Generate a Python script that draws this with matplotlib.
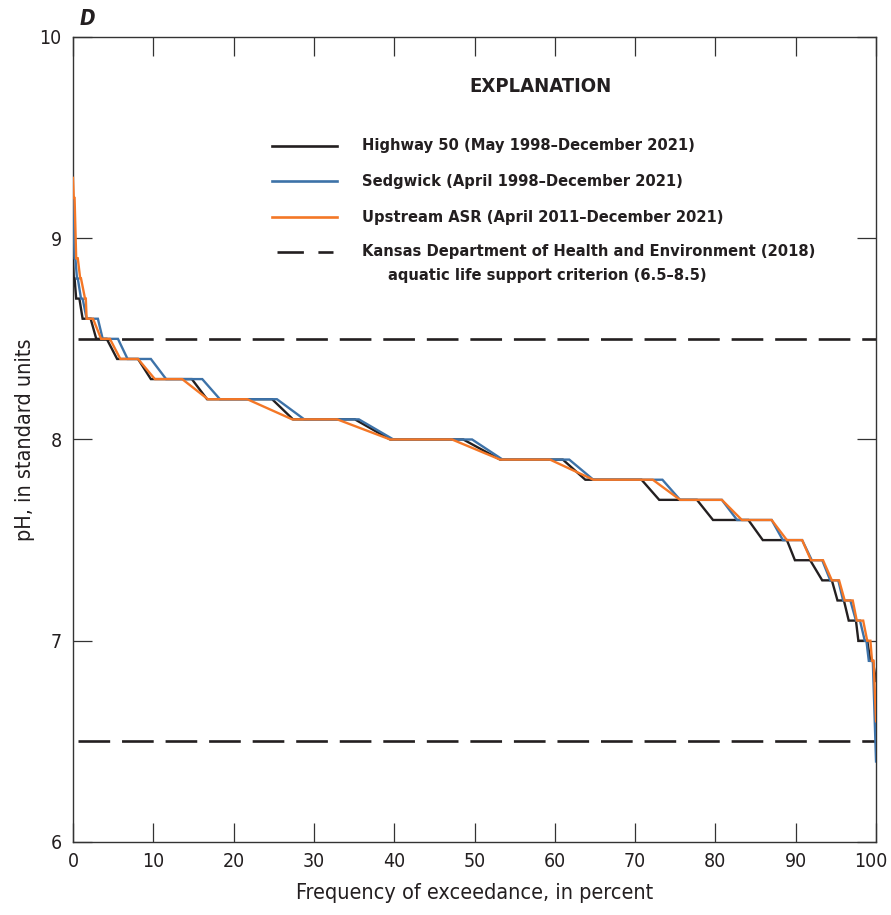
import matplotlib
matplotlib.use("Agg")
import matplotlib.pyplot as plt
from matplotlib.transforms import ScaledTranslation
import numpy as np

# --- data: plateaus of the exceedance curves (pH level, start %, end %) ---
ph_levels_hwy = [8.8, 8.7, 8.6, 8.5, 8.4, 8.3, 8.2, 8.1, 8.0, 7.9, 7.8, 7.7, 7.6, 7.5, 7.4, 7.3, 7.2, 7.1, 7.0, 6.9]
start_hwy = [0.1, 0.4, 1.2, 2.9, 5.5, 9.7, 16.7, 27.4, 39.5, 53.2, 63.8, 73.0, 79.7, 85.9, 89.9, 93.3, 95.2, 96.6, 97.8, 99.3]
end_hwy = [0.2, 0.8, 2.2, 4.2, 8.1, 14.8, 24.8, 35.1, 48.6, 61.0, 70.8, 77.7, 84.1, 88.9, 91.8, 94.5, 96.0, 97.5, 98.9, 99.6]
first_hwy, last_hwy = 8.9, 6.8

ph_levels_sed = [8.9, 8.8, 8.7, 8.6, 8.5, 8.4, 8.3, 8.2, 8.1, 8.0, 7.9, 7.8, 7.7, 7.6, 7.5, 7.4, 7.3, 7.2, 7.1, 7.0, 6.9]
start_sed = [0.2, 0.5, 1.0, 1.7, 3.7, 6.8, 11.6, 18.3, 28.8, 39.9, 53.5, 64.8, 75.6, 82.7, 88.4, 92.0, 94.3, 95.9, 97.5, 98.6, 99.1]
end_sed = [0.3, 0.6, 1.2, 3.1, 5.6, 9.7, 16.1, 25.4, 35.6, 49.7, 61.8, 73.4, 80.8, 87.0, 90.8, 93.3, 95.3, 96.8, 98.0, 98.8, 99.6]
first_sed, last_sed = 9.2, 6.4

ph_levels_asr = [9.2, 8.9, 8.8, 8.7, 8.6, 8.5, 8.4, 8.3, 8.2, 8.1, 8.0, 7.9, 7.8, 7.7, 7.6, 7.5, 7.4, 7.3, 7.2, 7.1, 7.0, 6.9]
start_asr = [0.1, 0.4, 0.9, 1.5, 1.7, 3.5, 5.9, 10.2, 16.8, 27.3, 39.5, 53.2, 64.8, 75.6, 83.3, 88.9, 91.9, 94.5, 96.1, 97.6, 98.9, 99.5]
end_asr = [0.2, 0.6, 1.0, 1.6, 2.5, 4.6, 8.1, 13.6, 21.7, 32.9, 47.2, 59.4, 72.2, 80.8, 87.0, 90.8, 93.4, 95.4, 97.1, 98.4, 99.3, 99.7]
first_asr, last_asr = 9.3, 6.6

criteria = [8.5, 6.5]

labels = ["Highway 50 (May 1998\u2013December 2021)",
          "Sedgwick (April 1998\u2013December 2021)",
          "Upstream ASR (April 2011\u2013December 2021)"]
colors = ["#231f20", "#3d72a8", "#f47726"]

# condensed face is the closest thing to the original narrow font
plt.rcParams["font.family"] = ["DejaVu Sans"]
plt.rcParams["font.stretch"] = "condensed"
INK = "#231f20"


def build_curve(levels, starts, ends, first, last):
    xs = [0.0]
    ys = [first]
    for ph, s, e in zip(levels, starts, ends):
        xs += [s, e]
        ys += [ph, ph]
    xs.append(100.0)
    ys.append(last)
    return np.array(xs), np.array(ys)


fig = plt.figure(figsize=(8.91, 9.15), dpi=100)
ax = fig.add_axes([0.0819, 0.0798, 0.9013, 0.8798])

curves = [
    build_curve(ph_levels_hwy, start_hwy, end_hwy, first_hwy, last_hwy),
    build_curve(ph_levels_sed, start_sed, end_sed, first_sed, last_sed),
    build_curve(ph_levels_asr, start_asr, end_asr, first_asr, last_asr),
]
for (xs, ys), c in zip(curves, colors):
    ax.plot(xs, ys, color=c, lw=1.7, solid_joinstyle="miter", zorder=3)

for v in criteria:
    ax.plot([0.6, 100], [v, v], color=INK, lw=1.9, dashes=(12, 4.5), zorder=2)

ax.set_xlim(0, 100)
ax.set_ylim(6, 10)
ax.set_xticks(np.arange(0, 101, 10))
ax.set_yticks([6, 7, 8, 9, 10])
ax.tick_params(direction="in", length=13.5, width=0.9, color="#333333",
               top=True, right=True, labelsize=14, labelcolor=INK)
ax.tick_params(axis="y", pad=8)
ax.tick_params(axis="x", pad=7)
for sp in ax.spines.values():
    sp.set_linewidth(1.0)
    sp.set_color("#333333")

# nudge the "100" label inside the figure, as in the original
fig.canvas.draw()
last_lbl = ax.get_xticklabels()[-1]
last_lbl.set_transform(last_lbl.get_transform() + ScaledTranslation(-5 / 100, 0, fig.dpi_scale_trans))

ax.set_xlabel("Frequency of exceedance, in percent", fontsize=15.5, color=INK, labelpad=9)
ax.set_ylabel("pH, in standard units", fontsize=15.5, color=INK, labelpad=3)

ax.text(0.008, 1.01, "D", transform=ax.transAxes, fontsize=15, fontweight="bold",
        fontstyle="italic", ha="left", va="bottom", color=INK)

# --- explanation ---
ax.text(0.5816, 0.939, "EXPLANATION", transform=ax.transAxes, fontsize=14.5,
        fontweight="bold", ha="center", va="center", color=INK)
rows = [0.8650, 0.8207, 0.7760]
for y, c, lab in zip(rows, colors, labels):
    ax.plot([0.2478, 0.3287], [y, y], transform=ax.transAxes, color=c, lw=1.9, clip_on=False)
    ax.text(0.3596, y, lab, transform=ax.transAxes, fontsize=11.8, fontweight="bold",
            ha="left", va="center", color=INK)
ax.plot([0.2540, 0.3237], [0.7330, 0.7330], transform=ax.transAxes, color=INK,
        lw=1.9, dashes=(10, 5.5), clip_on=False)
ax.text(0.3596, 0.7330, "Kansas Department of Health and Environment (2018)",
        transform=ax.transAxes, fontsize=11.8, fontweight="bold", ha="left", va="center",
        color=INK)
ax.text(0.3926, 0.7043, "aquatic life support criterion (6.5\u20138.5)",
        transform=ax.transAxes, fontsize=11.8, fontweight="bold", ha="left", va="center",
        color=INK)

fig.savefig("out.png", dpi=100)
plt.close(fig)
